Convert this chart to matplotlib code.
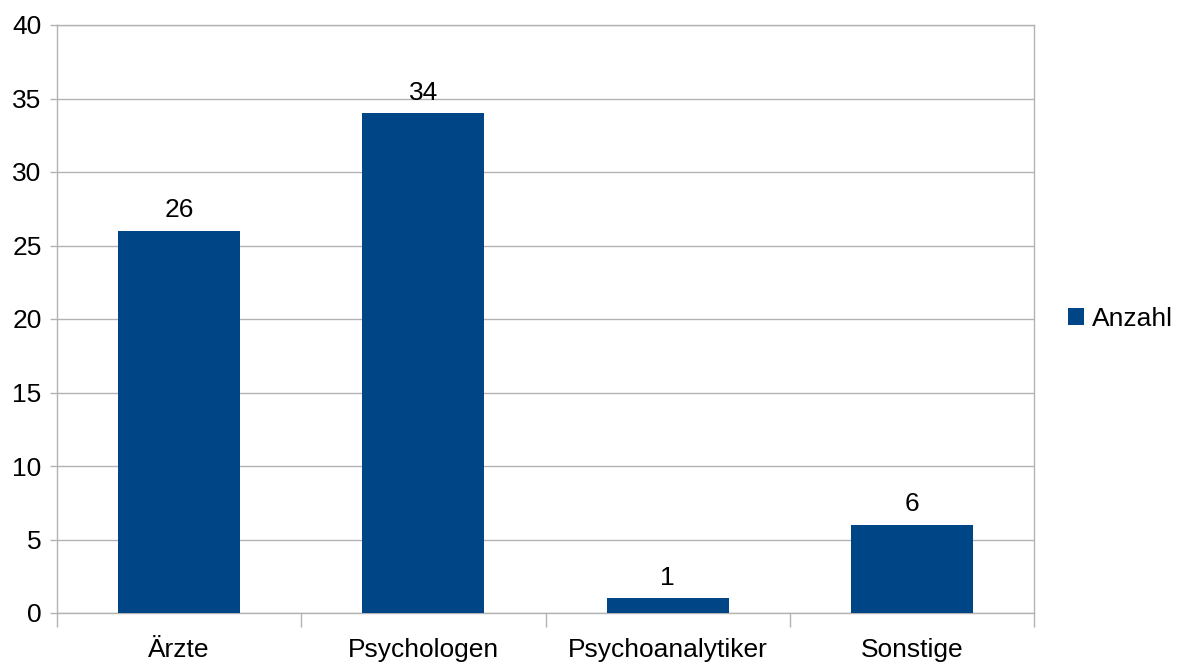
import matplotlib
matplotlib.use("Agg")
import matplotlib.pyplot as plt

categories = ["Ärzte", "Psychologen", "Psychoanalytiker", "Sonstige"]
values = [26, 34, 1, 6]
series_name = "Anzahl"
yticks = [0, 5, 10, 15, 20, 25, 30, 35, 40]

plt.rcParams['font.family'] = ['Liberation Sans', 'DejaVu Sans']
FS = 19

fig = plt.figure(figsize=(11.77, 6.62), dpi=100)
ax = fig.add_axes([57/1177, 49/662, (1034-57)/1177, (613-25)/662])

x = list(range(len(categories)))
bars = ax.bar(x, values, width=0.5, color="#004586", label=series_name, zorder=3)
for xi, v in zip(x, values):
    ax.annotate(str(v), (xi, v), xytext=(0, 6), textcoords="offset points",
                ha="center", va="bottom", fontsize=FS)

ax.set_xlim(-0.5, len(categories) - 0.5)
ax.set_ylim(0, 40)
ax.set_yticks(yticks)
ax.set_yticklabels([str(t) for t in yticks], fontsize=FS)
ax.set_xticks(x)
ax.set_xticklabels(categories, fontsize=FS)
ax.tick_params(axis="x", length=0, pad=18)
ax.set_xticks([i - 0.5 for i in range(len(categories) + 1)], minor=True)
ax.tick_params(axis="x", which="minor", length=10, color="#b3b3b3", width=1)
ax.tick_params(axis="y", length=5, color="#b3b3b3", width=1, pad=6)
ax.grid(axis="y", color="#b3b3b3", linewidth=1, zorder=0)
for s in ax.spines.values():
    s.set_color("#b3b3b3")
    s.set_linewidth(1)

ax.legend(loc="center left", bbox_to_anchor=(1.024, 0.5), frameon=False,
          fontsize=FS, handlelength=0.6, handleheight=0.6, handletextpad=0.3,
          borderaxespad=0)

fig.savefig("out.png", dpi=100)
